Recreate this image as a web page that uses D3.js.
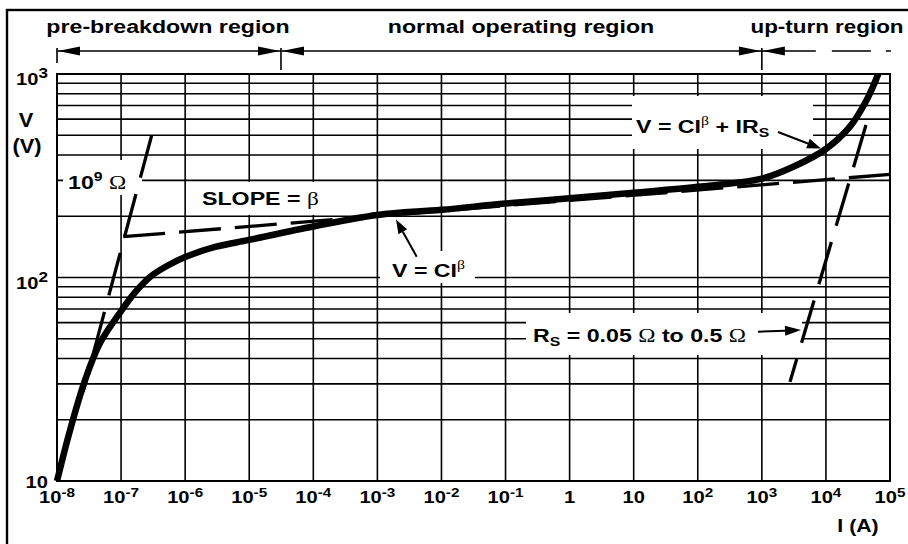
<!DOCTYPE html>
<html><head><meta charset="utf-8">
<script src="https://cdn.jsdelivr.net/npm/d3@7"></script>
<style>
body{margin:0;background:#fff;}
svg{display:block;}
text{font-family:"Liberation Sans",Arial,Helvetica,sans-serif;font-weight:bold;fill:#000;}
</style>
</head><body>
<svg id="chart" width="908" height="544"></svg>
<script>
// ---------- data ----------
const xTickValues = [1e-8,1e-7,1e-6,1e-5,1e-4,1e-3,1e-2,1e-1,1,10,100,1000,1e4,1e5];
const xTickBase   = ["10","10","10","10","10","10","10","10","1","10","10","10","10","10"];
const xTickSup    = ["-8","-7","-6","-5","-4","-3","-2","-1","","","2","3","4","5"];
const yTickValues = [10,100,1000];
const yTickBase   = ["10","10","10"];
const yTickSup    = ["","2","3"];
const yGridValues = [10,20,30,40,50,60,70,80,90,100,200,300,400,500,600,700,800,900,1000];

// V-I characteristic (solid curve)
const curveI = [1e-8, 1.6e-8, 2.74e-8, 4.69e-8, 1e-7, 1.65e-7, 2.83e-7, 5.02e-7, 1e-6, 2.93e-6, 1e-5, 1e-4, 1e-3, 1e-2, 1e-1, 1, 10, 100, 1000, 3.09e3, 1e4, 2.37e4, 4.32e4, 6.56e4];
const curveV = [10, 17.8, 31.3, 47.6, 68.4, 84.5, 100.6, 113.2, 126, 141.3, 153, 178, 203, 215, 231, 245, 261, 279, 306, 350, 428, 551, 745, 1000];

// 10^9 ohm leakage line (dashed)
const leakI = [2.55e-8, 3.01e-7];
const leakV = [27.4, 501];
// slope = beta line (dashed)
const betaI = [1.08e-7, 1e5];
const betaV = [158.7, 321];
// Rs line (dashed)
const rsI = [2.75e3, 4.22e4];
const rsV = [30.7, 561];

// regions along the top
const regionNames  = ["pre-breakdown region","normal operating region","up-turn region"];
const regionBounds = [1e-8, 3.13e-5, 1e3, 1e5];

// ---------- layout ----------
const svg = d3.select("#chart");
const SX = 1.22;
const x = d3.scaleLog().domain([1e-8,1e5]).range([57,890]);
const y = d3.scaleLog().domain([10,1000]).range([481,74]);

// outer frame
svg.append("rect").attr("x",7).attr("y",10).attr("width",1000).attr("height",700)
  .attr("fill","none").attr("stroke","#000").attr("stroke-width",2.4);

// grid
const grid = svg.append("g").attr("stroke","#000").attr("stroke-width",1.6);
grid.selectAll("line.v").data(xTickValues).join("line")
  .attr("x1",d=>x(d)).attr("x2",d=>x(d)).attr("y1",y(1000)).attr("y2",y(10));
grid.selectAll("line.h").data(yGridValues).join("line")
  .attr("x1",x(1e-8)).attr("x2",x(1e5)).attr("y1",d=>y(d)).attr("y2",d=>y(d));
svg.append("rect").attr("x",x(1e-8)).attr("y",y(1000)).attr("width",x(1e5)-x(1e-8)).attr("height",y(10)-y(1000))
  .attr("fill","none").attr("stroke","#000").attr("stroke-width",2);

// rich text helper
function rich(parent, px, py, parts, size, anchor, sx){
  const g = parent.append("g").attr("transform",`translate(${px},${py}) scale(${sx||SX},1)`);
  const t = g.append("text").attr("text-anchor",anchor||"start").attr("font-size",size);
  let shift = 0;
  parts.forEach(p=>{
    const ts = t.append("tspan").text(p.t);
    const target = p.sup ? -size*(p.raise||0.42) : (p.sub ? size*0.22 : 0);
    ts.attr("dy", target - shift); shift = target;
    if(p.sup||p.sub) ts.attr("font-size", size*(p.scale||0.68));
    if(p.serif) ts.attr("font-family","'Liberation Serif','DejaVu Serif',serif").attr("font-weight","normal");
  });
  return t;
}
function box(px,py,w,h){ svg.append("rect").attr("x",px).attr("y",py).attr("width",w).attr("height",h).attr("fill","#fff"); }
function arrow(x1,y1,x2,y2,len,hw,sw){
  const a = Math.atan2(y2-y1,x2-x1), c=Math.cos(a), s=Math.sin(a);
  const bx = x2 - len*c, by = y2 - len*s;
  svg.append("line").attr("x1",x1).attr("y1",y1).attr("x2",bx).attr("y2",by).attr("stroke","#000").attr("stroke-width",sw);
  svg.append("path").attr("d",`M${x2},${y2}L${bx - hw*s},${by + hw*c}L${bx + hw*s},${by - hw*c}Z`).attr("fill","#000");
}

// axis tick labels
xTickValues.forEach((v,i)=>{
  const parts=[{t:xTickBase[i]}]; if(xTickSup[i]) parts.push({t:xTickSup[i],sup:true,scale:0.76,raise:0.34});
  rich(svg, x(v), 503, parts, 16.5, "middle");
});
yTickValues.forEach((v,i)=>{
  const parts=[{t:yTickBase[i]}]; if(yTickSup[i]) parts.push({t:yTickSup[i],sup:true,scale:0.85,raise:0.42});
  rich(svg, 48, y(v)+(i===0?7:11), parts, 16.5, "end");
});
rich(svg, 26, 127, [{t:"V"}], 19.5, "middle", 1.12);
rich(svg, 27, 153, [{t:"(V)"}], 19.5, "middle", 1.12);
rich(svg, 858, 532, [{t:"I (A)"}], 18.5, "middle", 1.15);

// label boxes (mask gridlines)
box(63,160,79,35);
box(195,182,135,33);
box(380,251,95,32);
box(632,96,181,53);
box(526,313,276,42);

// lines
const line = d3.line().x(d=>x(d[0])).y(d=>y(d[1]));
const dashStyle = "44,17";
svg.append("path").attr("d",line(d3.zip(leakI,leakV).reverse())).attr("fill","none").attr("stroke","#000")
  .attr("stroke-width",3.3).attr("stroke-dasharray",dashStyle);
svg.append("path").attr("d",line(d3.zip(betaI,betaV))).attr("fill","none").attr("stroke","#000")
  .attr("stroke-width",3.3).attr("stroke-dasharray","42,14");
svg.append("path").attr("d",line(d3.zip(rsI,rsV).reverse())).attr("fill","none").attr("stroke","#000")
  .attr("stroke-width",3.3).attr("stroke-dasharray",dashStyle);
const curveLine = d3.line().x(d=>x(d[0])).y(d=>y(d[1])).curve(d3.curveCatmullRom.alpha(0.5));
svg.append("path").attr("d",curveLine(d3.zip(curveI,curveV))).attr("fill","none").attr("stroke","#000")
  .attr("stroke-width",6.5).attr("stroke-linejoin","round");

// annotations
rich(svg, 68, 189, [{t:"10"},{t:"9",sup:true},{t:" "},{t:"Ω",serif:true}], 19, "start");
rich(svg, 202, 205, [{t:"SLOPE = "},{t:"β",serif:true}], 19, "start");
rich(svg, 392, 277, [{t:"V = CI"},{t:"β",sup:true,serif:true}], 19, "start");
arrow(416.7,256.7,396,219.5,14,5,2);
rich(svg, 636, 133, [{t:"V = CI"},{t:"β",sup:true,serif:true},{t:" + IR"},{t:"S",sub:true}], 19, "start");
arrow(778,132,821,148.5,14,5,2);
rich(svg, 533, 342, [{t:"R"},{t:"S",sub:true},{t:" = 0.05 "},{t:"Ω",serif:true},{t:" to 0.5 "},{t:"Ω",serif:true}], 19, "start");
arrow(758,331.7,801,330,16,5,2);

// region arrows
const ay = 51;
function head(px, dir){ // dir -1 points left, +1 points right
  svg.append("path").attr("d",`M${px},${ay}L${px-dir*22},${ay-4.5}L${px-dir*22},${ay+4.5}Z`).attr("fill","#000");
}
regionNames.forEach((n,i)=>{
  const a=x(regionBounds[i]), b=x(regionBounds[i+1]);
  if(i<2){
    svg.append("line").attr("x1",a).attr("x2",b).attr("y1",ay).attr("y2",ay).attr("stroke","#000").attr("stroke-width",1.5);
    head(a+1,-1); head(b-1,1);
  } else {
    svg.append("line").attr("x1",a).attr("x2",b+1).attr("y1",ay).attr("y2",ay).attr("stroke","#000").attr("stroke-width",1.5)
      .attr("stroke-dasharray","54,16,39,15,6,100");
    head(a+1,-1);
  }
});
svg.append("line").attr("x1",x(regionBounds[0])).attr("x2",x(regionBounds[0])).attr("y1",48).attr("y2",63).attr("stroke","#000").attr("stroke-width",1.6);
[1,2].forEach(i=>svg.append("line").attr("x1",x(regionBounds[i])).attr("x2",x(regionBounds[i])).attr("y1",48).attr("y2",70).attr("stroke","#000").attr("stroke-width",1.6));
rich(svg, 168, 33, [{t:regionNames[0]}], 19, "middle");
rich(svg, 521, 33, [{t:regionNames[1]}], 19, "middle");
rich(svg, 827, 33, [{t:regionNames[2]}], 19, "middle", 1.18);
</script>
</body></html>
